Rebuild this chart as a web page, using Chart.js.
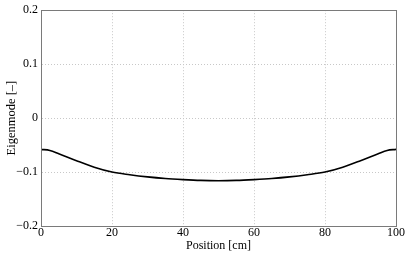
<!DOCTYPE html>
<html>
<head>
<meta charset="utf-8">
<script src="https://cdn.jsdelivr.net/npm/chart.js@4"></script>
<style>
    html, body { margin: 0; padding: 0; background: #fff; }
    #wrap { width: 407px; height: 253px; }
</style>
</head>
<body>
<div id="wrap"><canvas id="chart"></canvas></div>
<script>
// position along the bar [cm]
const positions = [0, 2.5, 5, 10, 15, 20, 25, 30, 35, 40, 45, 50, 55, 60, 65, 70, 75, 80, 85, 90, 95, 97.5, 100];
// eigenmode value
const eigenmode = [-0.058, -0.060, -0.066, -0.079, -0.091, -0.100, -0.105, -0.109, -0.112, -0.114, -0.1155, -0.116,
                   -0.1155, -0.114, -0.112, -0.109, -0.105, -0.100, -0.091, -0.079, -0.066, -0.060, -0.058];
const xTicks = [0, 20, 40, 60, 80, 100];
const yTicks = [-0.2, -0.1, 0, 0.1, 0.2];

const points = positions.map((p, i) => ({x: p, y: eigenmode[i]}));

// frame around the plot area (top and right sides too)
const boxPlugin = {
    id: 'box',
    afterDraw(chart) {
        const a = chart.chartArea;
        const c = chart.ctx;
        c.save();
        c.strokeStyle = '#7a7a7a';
        c.lineWidth = 1;
        c.strokeRect(Math.round(a.left) + 0.5, Math.round(a.top) + 0.5, Math.round(a.right - a.left), Math.round(a.bottom - a.top));
        c.restore();
    }
};

function fmt(v) {
    if (Math.abs(v) < 1e-9) return '0';
    const s = Math.abs(v).toFixed(1);
    return v < 0 ? '\u2212' + s : s;
}

const ctx = document.getElementById('chart').getContext('2d');
new Chart(ctx, {
    type: 'line',
    data: {
        datasets: [{
            data: points,
            borderColor: '#000',
            borderWidth: 1.6,
            pointRadius: 0,
            cubicInterpolationMode: 'monotone',
            fill: false
        }]
    },
    options: {
        responsive: true,
        maintainAspectRatio: false,
        animation: false,
        layout: { padding: { top: 8, right: 11, left: 0, bottom: 0 } },
        plugins: { legend: { display: false }, tooltip: { enabled: false } },
        scales: {
            x: {
                type: 'linear',
                min: 0,
                max: 100,
                afterBuildTicks: s => { s.ticks = xTicks.map(v => ({value: v})); },
                ticks: {
                    color: '#000',
                    font: { family: 'Liberation Serif', size: 12 },
                    padding: 0,
                    maxRotation: 0
                },
                grid: { color: '#c8c8c8', drawTicks: false },
                border: { color: '#7a7a7a', dash: [1, 2] },
                title: {
                    display: true,
                    text: 'Position [cm]',
                    color: '#000',
                    font: { family: 'Liberation Serif', size: 12 },
                    padding: { top: -3, bottom: 0 }
                },
                afterFit: s => { s.height = 27; }
            },
            y: {
                min: -0.2,
                max: 0.2,
                afterBuildTicks: s => { s.ticks = yTicks.map(v => ({value: v})); },
                ticks: {
                    color: '#000',
                    font: { family: 'Liberation Serif', size: 12 },
                    padding: 3,
                    callback: v => fmt(v)
                },
                grid: { color: '#c8c8c8', drawTicks: false },
                border: { color: '#7a7a7a', dash: [1, 2] },
                title: {
                    display: true,
                    text: 'Eigenmode [\u2013]',
                    color: '#000',
                    font: { family: 'Liberation Serif', size: 12.5 },
                    padding: { top: 4, bottom: 0 }
                },
                afterFit: s => { s.width = 41; }
            }
        }
    },
    plugins: [boxPlugin]
});
</script>
</body>
</html>
